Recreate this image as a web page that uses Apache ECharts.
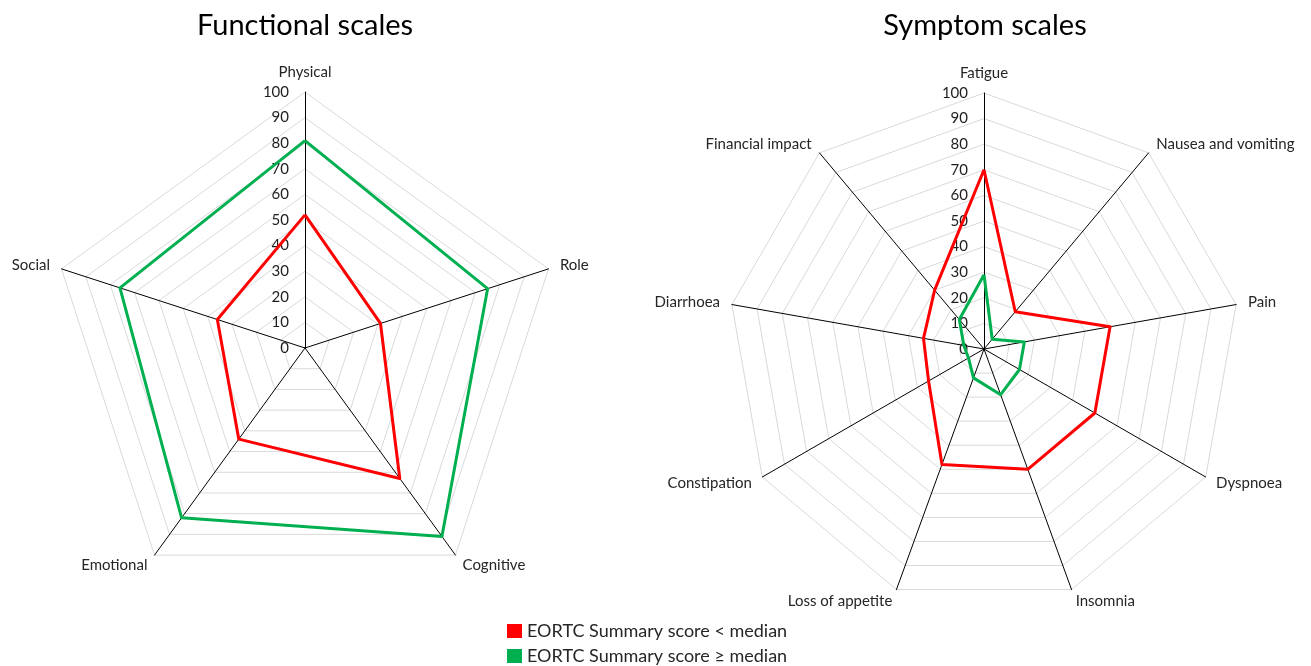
<!DOCTYPE html>
<html>
<head>
<meta charset="utf-8">
<script src="https://cdn.jsdelivr.net/npm/echarts@6/dist/echarts.min.js"></script>
<style>
  html, body { margin: 0; padding: 0; background: #fff; }
  #chart { width: 1311px; height: 666px; }
</style>
</head>
<body>
<div id="chart"></div>
<script>
// axes listed clockwise from the top, as in the picture
const functionalAxes = ['Physical', 'Role', 'Cognitive', 'Emotional', 'Social']
const functionalBelow = [52, 31, 63, 44, 36]
const functionalAbove = [81, 75, 91, 82, 76]

const symptomAxes = ['Fatigue', 'Nausea and vomiting', 'Pain', 'Dyspnoea', 'Insomnia',
  'Loss of appetite', 'Constipation', 'Diarrhoea', 'Financial impact']
const symptomBelow = [70, 19, 50, 50, 50, 48, 25, 24, 30]
const symptomAbove = [29, 5, 16, 16, 19, 12, 7, 8, 15]

const scaleMin = 0
const scaleMax = 100
const scaleStep = 10

const seriesNames = ['EORTC Summary score < median', 'EORTC Summary score \u2265 median']
const seriesColors = ['#ff0000', '#00b050']

const FONT = 'Lato, "Open Sans", sans-serif'

// echarts lays indicators out counter-clockwise, keep the first one on top and flip the rest
function clockwise (arr) {
  return [arr[0]].concat(arr.slice(1).reverse())
}

function radarAxis (center, names) {
  return {
    center: center,
    radius: 256,
    startAngle: 90,
    shape: 'polygon',
    splitNumber: (scaleMax - scaleMin) / scaleStep,
    nameGap: 12,
    indicator: clockwise(names).map(name => ({ name: name, min: scaleMin, max: scaleMax })),
    axisName: { color: '#262626', fontSize: 15, fontFamily: FONT },
    axisLine: { lineStyle: { color: '#000', width: 1 } },
    axisTick: { show: false },
    axisLabel: { show: false },
    splitLine: { lineStyle: { color: '#d9d9d9', width: 1 } },
    splitArea: { show: false }
  }
}

function radarSeries (radarIndex, below, above) {
  return {
    type: 'radar',
    radarIndex: radarIndex,
    symbol: 'none',
    data: [below, above].map((values, i) => ({
      name: seriesNames[i],
      value: clockwise(values),
      itemStyle: { color: seriesColors[i] },
      lineStyle: { color: seriesColors[i], width: 3 }
    }))
  }
}

function scaleLabels (polarIndex) {
  return {
    polarIndex: polarIndex,
    type: 'value',
    min: scaleMin,
    max: scaleMax,
    interval: scaleStep,
    axisLine: { show: false },
    axisTick: { show: false },
    splitLine: { show: false },
    axisLabel: { margin: 16, color: '#1f1f1f', fontSize: 15, fontFamily: FONT }
  }
}

const chart = echarts.init(document.getElementById('chart'))

chart.setOption({
  animation: false,
  title: [
    { text: 'Functional scales', left: 305, top: 11, padding: 0, textAlign: 'center',
      textStyle: { fontSize: 29, fontWeight: 'normal', color: '#000', fontFamily: FONT } },
    { text: 'Symptom scales', left: 985, top: 11, padding: 0, textAlign: 'center',
      textStyle: { fontSize: 29, fontWeight: 'normal', color: '#000', fontFamily: FONT } }
  ],
  legend: {
    data: seriesNames,
    orient: 'vertical',
    left: 507,
    top: 622,
    padding: 0,
    itemGap: 7,
    itemWidth: 15,
    itemHeight: 14,
    icon: 'rect',
    textStyle: { fontSize: 18, color: '#262626', fontFamily: FONT }
  },
  radar: [
    radarAxis([305, 348], functionalAxes),
    radarAxis([984, 349], symptomAxes)
  ],
  polar: [
    { center: [305, 348], radius: 256 },
    { center: [984, 349], radius: 256 }
  ],
  angleAxis: [
    { polarIndex: 0, type: 'value', min: 0, max: 360, startAngle: 90, show: false },
    { polarIndex: 1, type: 'value', min: 0, max: 360, startAngle: 90, show: false }
  ],
  radiusAxis: [scaleLabels(0), scaleLabels(1)],
  series: [
    radarSeries(0, functionalBelow, functionalAbove),
    radarSeries(1, symptomBelow, symptomAbove)
  ]
})
</script>
</body>
</html>
